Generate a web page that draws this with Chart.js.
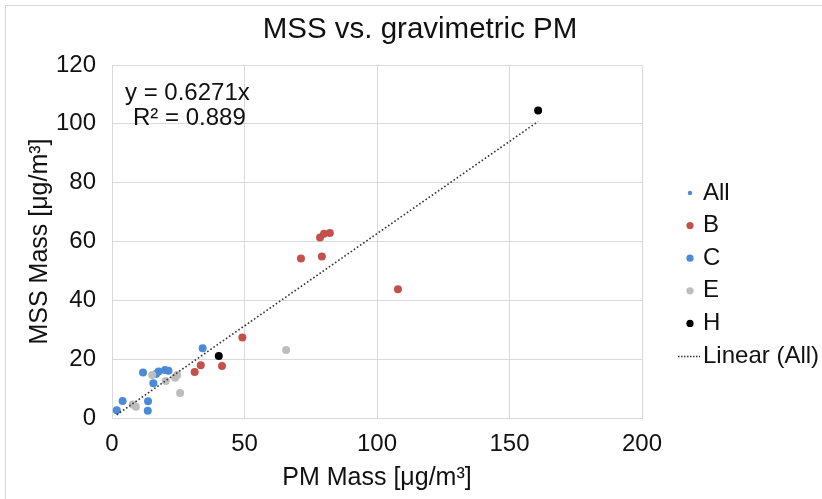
<!DOCTYPE html>
<html><head><meta charset="utf-8">
<script src="https://cdn.jsdelivr.net/npm/chart.js@4.4.1/dist/chart.umd.min.js"></script>
<style>html,body{margin:0;padding:0;background:#fff;}#wrap{width:822px;height:499px;position:relative;}</style>
</head><body><div id="wrap"><canvas id="c" width="822" height="499"></canvas></div>
<script>
// ---- data ----
const chartTitle = 'MSS vs. gravimetric PM';
const seriesNames = ['All', 'B', 'C', 'E', 'H'];
const bX = [31.2, 33.5, 41.5, 49.2, 71.3, 78.5, 80.0, 82.2, 79.2, 107.9];
const bY = [15.6, 17.9, 17.7, 27.4, 54.2, 61.4, 62.6, 62.9, 54.9, 43.8];
const cX = [1.8, 4.0, 13.6, 13.5, 11.7, 15.6, 16.6, 17.6, 20.0, 21.3, 34.2];
const cY = [2.6, 5.8, 5.7, 2.5, 15.5, 11.8, 15.0, 15.8, 16.3, 16.1, 23.7];
const eX = [7.8, 9.0, 15.2, 20.3, 23.8, 24.6, 25.7, 65.7];
const eY = [4.6, 3.8, 14.6, 12.6, 13.7, 14.6, 8.5, 23.1];
const hX = [40.3, 160.8];
const hY = [21.1, 104.5];
const trendName = 'Linear (All)';
const trendX = [1.8, 160.8];
const trendY = [1.1, 100.8];
const equationLines = ['y = 0.6271x', 'R\u00B2 = 0.889'];
const xTicks = [0, 50, 100, 150, 200];
const yTicks = [0, 20, 40, 60, 80, 100, 120];

const pts = (xs, ys) => xs.map((x, i) => ({x: x, y: ys[i]}));
const allX = [].concat(bX, cX, eX, hX);
const allY = [].concat(bY, cY, eY, hY);

const COL = {All: '#4a8ad8', B: '#c4504b', C: '#4a8ad8', E: '#bdbdbd', H: '#000000'};
const FONT = "'Liberation Sans', Arial, sans-serif";
const TXT = '#111111';
const GRID = '#d9d9d9';

const legendItems = [
  {label: seriesNames[0], color: COL.All, r: 2.2},
  {label: seriesNames[1], color: COL.B, r: 3.6},
  {label: seriesNames[2], color: COL.C, r: 3.6},
  {label: seriesNames[3], color: COL.E, r: 3.6},
  {label: seriesNames[4], color: COL.H, r: 3.6},
  {label: trendName, line: true}
];

const extras = {
  id: 'extras',
  afterDraw(chart) {
    const ctx = chart.ctx;
    ctx.save();
    // outer chart border (top & left visible)
    ctx.strokeStyle = '#d9d9d9';
    ctx.lineWidth = 1;
    ctx.beginPath();
    ctx.moveTo(5.5, 499); ctx.lineTo(5.5, 5.5); ctx.lineTo(822, 5.5);
    ctx.stroke();
    // title
    ctx.fillStyle = TXT;
    ctx.textBaseline = 'middle';
    ctx.textAlign = 'center';
    ctx.font = '29.5px ' + FONT;
    ctx.fillText(chartTitle, 420, 30);
    // equation
    ctx.font = '24px ' + FONT;
    ctx.textAlign = 'left';
    ctx.fillText(equationLines[0], 125, 93);
    ctx.fillText(equationLines[1], 133, 118);
    // legend
    const x0 = 690, tx = 703, y0 = 193, dy = 32.6;
    legendItems.forEach((it, i) => {
      const y = y0 + i * dy;
      if (it.line) {
        ctx.strokeStyle = '#333';
        ctx.lineWidth = 1.3;
        ctx.setLineDash([1.5, 1.5]);
        ctx.beginPath(); ctx.moveTo(678, y + 0.5); ctx.lineTo(700, y + 0.5); ctx.stroke();
        ctx.setLineDash([]);
      } else {
        ctx.fillStyle = it.color;
        ctx.beginPath(); ctx.arc(x0, y, it.r, 0, Math.PI * 2); ctx.fill();
      }
      ctx.fillStyle = TXT;
      ctx.fillText(it.label, tx, y);
    });
    ctx.restore();
  }
};

const ptStyle = (c, r) => ({backgroundColor: c, borderColor: c, pointRadius: r, pointHoverRadius: r, pointBorderWidth: 0});

new Chart(document.getElementById('c'), {
  type: 'scatter',
  data: {
    datasets: [
      {label: trendName, data: pts(trendX, trendY), showLine: true, borderColor: '#333333',
        borderWidth: 1.6, borderDash: [1.6, 2.2], pointRadius: 0, order: 0, fill: false},
      Object.assign({label: seriesNames[4], data: pts(hX, hY), order: 1}, ptStyle(COL.H, 4)),
      Object.assign({label: seriesNames[1], data: pts(bX, bY), order: 2}, ptStyle(COL.B, 4)),
      Object.assign({label: seriesNames[3], data: pts(eX, eY), order: 3}, ptStyle(COL.E, 4)),
      Object.assign({label: seriesNames[2], data: pts(cX, cY), order: 4}, ptStyle(COL.C, 4)),
      Object.assign({label: seriesNames[0], data: pts(allX, allY), order: 10}, ptStyle(COL.All, 2.2))
    ]
  },
  options: {
    responsive: false,
    animation: false,
    layout: {padding: {left: 0, right: 180, top: 65, bottom: 0}},
    plugins: {
      legend: {display: false},
      tooltip: {enabled: false},
      title: {display: false}
    },
    scales: {
      x: {
        type: 'linear', min: 0, max: 200,
        afterBuildTicks: s => { s.ticks = xTicks.map(v => ({value: v})); },
        afterFit: s => { s.height = 81; },
        ticks: {color: TXT, font: {family: FONT, size: 24}, padding: 12, maxRotation: 0},
        grid: {color: GRID, lineWidth: 1, drawTicks: false},
        border: {color: GRID, width: 1},
        title: {display: true, text: 'PM Mass [\u03BCg/m\u00B3]', color: TXT,
          font: {family: FONT, size: 25}, padding: {top: 0, bottom: 6}}
      },
      y: {
        type: 'linear', min: 0, max: 120,
        afterBuildTicks: s => { s.ticks = yTicks.map(v => ({value: v})); },
        afterFit: s => { s.width = 112; },
        ticks: {color: TXT, font: {family: FONT, size: 24}, padding: 16},
        grid: {color: GRID, lineWidth: 1, drawTicks: false},
        border: {color: GRID, width: 1},
        title: {display: true, text: 'MSS Mass [\u03BCg/m\u00B3]', color: TXT,
          font: {family: FONT, size: 25}, padding: {top: 25, bottom: 0}}
      }
    }
  },
  plugins: [extras]
});
</script></body></html>
